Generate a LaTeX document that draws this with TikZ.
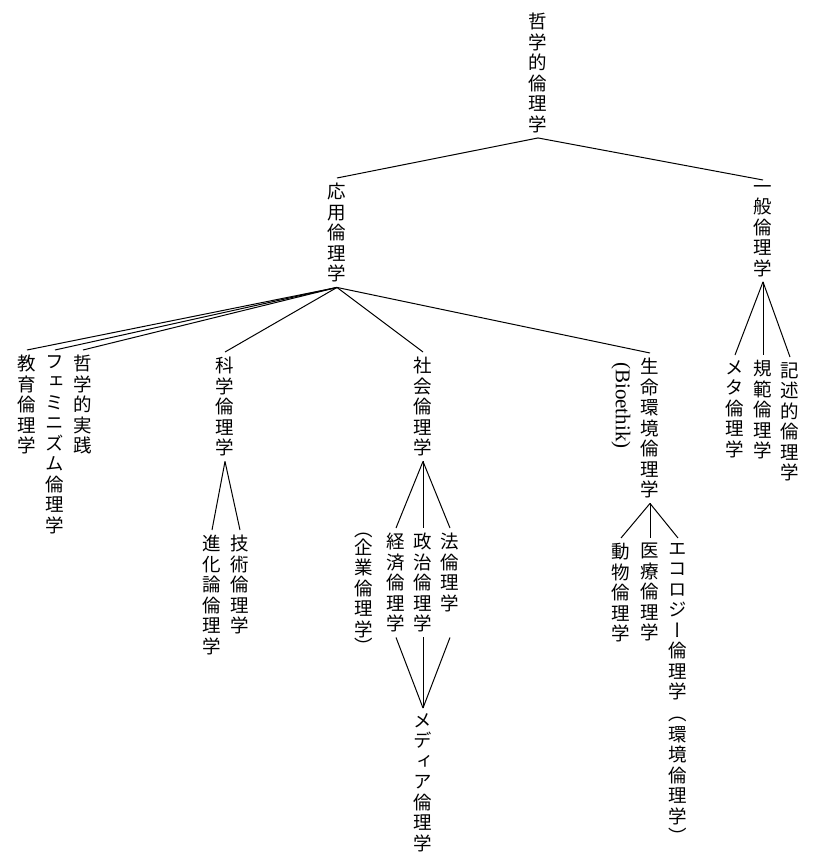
\documentclass[tikz,border=0pt]{standalone}
\usepackage{fontspec}
\newfontfamily\jp[RawFeature={+vert}]{Noto Sans CJK JP}
\newfontfamily\latserif{Liberation Serif}
\tikzset{
  vt/.style={font=\jp\fontsize{18.5}{20.5}\selectfont, align=center, anchor=north, inner xsep=0pt, inner ysep=5pt},
  bio/.style={font=\latserif\fontsize{21}{24}\selectfont, rotate=-90, anchor=west, inner sep=0pt},
  br/.style={line width=1pt},
  thinbr/.style={line width=0.6pt},
}
\begin{document}
\begin{tikzpicture}[x=1pt,y=-1pt]
\fill[white] (0,0) rectangle (821,859);
\useasboundingbox (0,0) rectangle (821,859);
\node[vt] (root) at (538,8) {哲\\学\\的\\倫\\理\\学};
\node[vt] (oyo) at (337,178) {応\\用\\倫\\理\\学};
\node[vt] (ippan) at (763,180) {一\\般\\倫\\理\\学};
\node[vt] (kyoiku) at (27,350) {教\\育\\倫\\理\\学};
\node[vt] (femi) at (55,350) {フ\\ェ\\ミ\\ニ\\ズ\\ム\\倫\\理\\学};
\node[vt] (tetsu) at (83,350) {哲\\学\\的\\実\\践};
\node[vt] (kagaku) at (225,352) {科\\学\\倫\\理\\学};
\node[vt] (shinka) at (212,530) {進\\化\\論\\倫\\理\\学};
\node[vt] (gijutsu) at (240,530) {技\\術\\倫\\理\\学};
\node[vt] (shakai) at (423,352) {社\\会\\倫\\理\\学};
\node[vt] (keizai) at (396,528) {経\\済\\倫\\理\\学};
\node[vt] (kigyo) at (364,528) {（\\[-3pt]企\\業\\倫\\理\\学\\[-3pt]）};
\node[vt] (seiji) at (423,528) {政\\治\\倫\\理\\学};
\node[vt] (ho) at (450,528) {法\\倫\\理\\学};
\node[vt] (media) at (423,708) {メ\\デ\\ィ\\ア\\倫\\理\\学};
\node[vt] (seimei) at (650,353) {生\\命\\環\\境\\倫\\理\\学};
\node[bio] (bio) at (621,362) {(Bioethik)};
\node[vt] (dobutsu) at (621,538) {動\\物\\倫\\理\\学};
\node[vt] (iryo) at (650,538) {医\\療\\倫\\理\\学};
\node[vt] (eco) at (678,538) {エ\\コ\\ロ\\ジ\\ー\\倫\\理\\学};
\node[vt] (kankyo) at (678,712) {（\\環\\境\\倫\\理\\学\\）};
\node[vt] (meta) at (735,355) {メ\\タ\\倫\\理\\学};
\node[vt] (kihan) at (763,355) {規\\範\\倫\\理\\学};
\node[vt] (kijutsu) at (790,357) {記\\述\\的\\倫\\理\\学};
\draw[br] (root.south) -- (oyo.north);
\draw[br] (root.south) -- (ippan.north);
\foreach \n in {kyoiku,femi,tetsu,kagaku,shakai,seimei} \draw[br] (oyo.south) -- (\n.north);
\foreach \n in {shinka,gijutsu} \draw[br] (kagaku.south) -- (\n.north);
\foreach \n in {keizai,seiji,ho} \draw[br] (shakai.south) -- (\n.north);
\coordinate (hob) at (ho.north |- keizai.south);
\draw[br] (keizai.south) -- (media.north);
\draw[br] (seiji.south) -- (media.north);
\draw[br] (hob) -- (media.north);
\draw[br] (seimei.south) -- (dobutsu.north);
\draw[thinbr] (seimei.south) -- (iryo.north);
\draw[br] (seimei.south) -- (eco.north);
\draw[br] (ippan.south) -- (meta.north);
\draw[thinbr] (ippan.south) -- (kihan.north);
\draw[br] (ippan.south) -- (kijutsu.north);
\end{tikzpicture}
\end{document}
